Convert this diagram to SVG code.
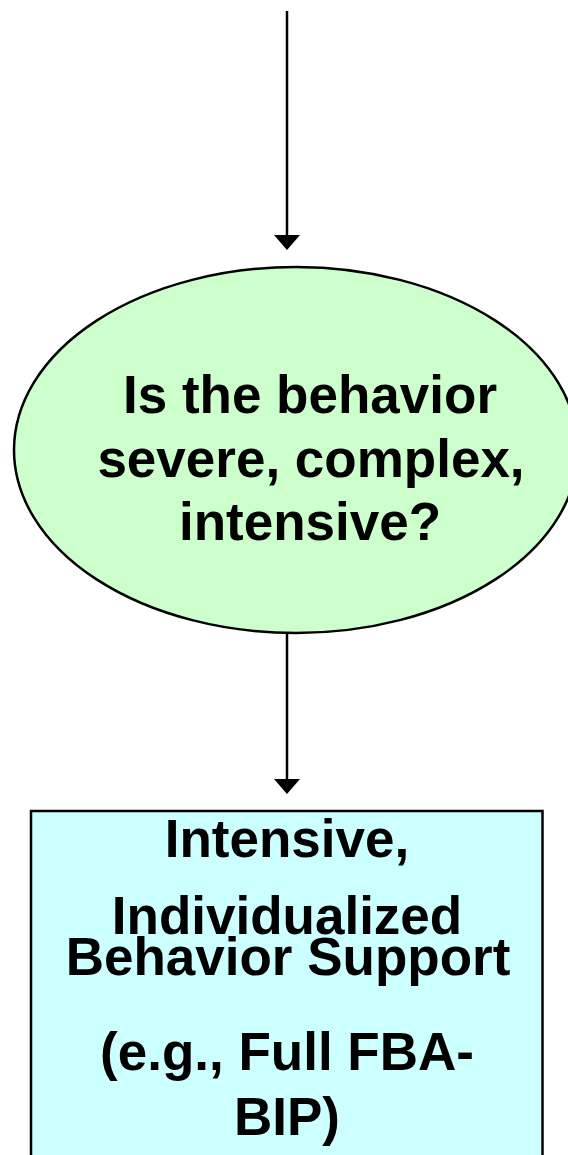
<svg xmlns="http://www.w3.org/2000/svg" width="568" height="1155" viewBox="0 0 568 1155">
<style>
.lbl{font-family:"Liberation Sans",Arial,sans-serif;font-weight:bold;font-size:53px;fill:#000;text-anchor:middle}
.conn{stroke:#000;stroke-width:2.5;fill:none}
</style>
<defs>
<marker id="arr" markerUnits="userSpaceOnUse" markerWidth="28" markerHeight="18" refX="26" refY="13" orient="auto" viewBox="0 0 28 26">
<path d="M0,0 L26,13 L0,26 Z" fill="#000"/>
</marker>
</defs>
<rect width="568" height="1155" fill="#fff"/>
<g id="connectors">
<path class="conn" d="M287,11 V236"/>
<polygon points="274,235 300,235 287,250" fill="#000"/>
<path class="conn" d="M287,633 V780"/>
<polygon points="274,779 300,779 287,794" fill="#000"/>
</g>
<g id="decision">
<ellipse cx="296" cy="450" rx="282" ry="183" fill="#CCFFCC" stroke="#000" stroke-width="2.5"/>
<text class="lbl" x="310" y="413">Is the behavior</text>
<text class="lbl" x="311" y="477">severe, complex,</text>
<text class="lbl" x="310" y="540">intensive?</text>
</g>
<g id="support">
<rect x="31" y="811" width="511.5" height="360" fill="#CCFFFF" stroke="#000" stroke-width="2.5"/>
<text class="lbl" x="287" y="857">Intensive,</text>
<text class="lbl" x="287" y="934">Individualized</text>
<text class="lbl" x="288" y="975">Behavior Support</text>
<text class="lbl" x="287" y="1070">(e.g., Full FBA-</text>
<text class="lbl" x="287" y="1135">BIP)</text>
</g>
</svg>
